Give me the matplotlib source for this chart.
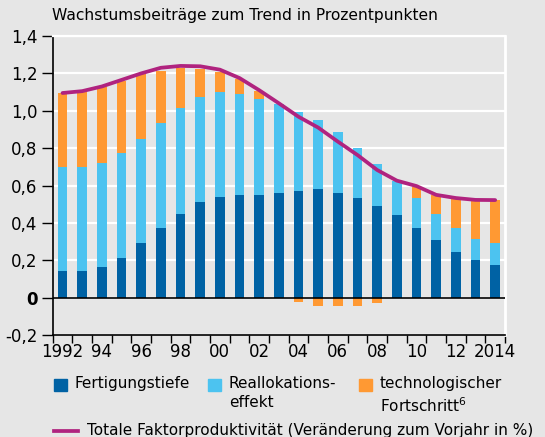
import matplotlib
matplotlib.use("Agg")
import matplotlib.pyplot as plt
import numpy as np
from matplotlib.patches import Rectangle
from matplotlib.lines import Line2D

years = list(range(1992, 2015))
tick_labels = ["1992", "94", "96", "98", "00", "02", "04", "06", "08", "10", "12", "2014"]

fertigungstiefe = [0.14, 0.14, 0.165, 0.21, 0.29, 0.37, 0.445, 0.51, 0.54, 0.55, 0.55, 0.56,
                   0.57, 0.58, 0.56, 0.535, 0.49, 0.44, 0.375, 0.31, 0.245, 0.20, 0.175]
reallokation = [0.56, 0.56, 0.555, 0.565, 0.56, 0.565, 0.57, 0.565, 0.56, 0.54, 0.515, 0.475,
                0.425, 0.37, 0.325, 0.265, 0.225, 0.185, 0.16, 0.14, 0.13, 0.115, 0.115]
technologie = [0.395, 0.40, 0.405, 0.385, 0.345, 0.28, 0.215, 0.15, 0.11, 0.08, 0.04, 0.0,
               -0.025, -0.045, -0.045, -0.045, -0.03, 0.0, 0.055, 0.10, 0.155, 0.205, 0.23]
tfp = [1.095, 1.105, 1.13, 1.165, 1.20, 1.23, 1.24, 1.238, 1.22, 1.175, 1.11, 1.04,
       0.968, 0.91, 0.835, 0.763, 0.683, 0.626, 0.597, 0.55, 0.533, 0.523, 0.522]

dark_blue = "#0062a4"
light_blue = "#4cc3f0"
orange = "#ff9933"
magenta = "#b0237f"
background = "#e6e6e6"

plt.rcParams["font.family"] = ["DejaVu Sans"]
plt.rcParams["font.size"] = 11

figure = plt.figure(figsize=(5.45, 4.37), dpi=100, facecolor=background)
axis = figure.add_axes([0.0967, 0.2334, 0.8299, 0.6842], facecolor=background)

x = np.arange(len(years))
dark = np.array(fertigungstiefe)
light = np.array(reallokation)
tech = np.array(technologie)

axis.bar(x, dark, width=0.5, color=dark_blue, zorder=2)
axis.bar(x, light, width=0.5, bottom=dark, color=light_blue, zorder=2)
tech_bottom = np.where(tech >= 0, dark + light, 0.0)
axis.bar(x, tech, width=0.5, bottom=tech_bottom, color=orange, zorder=2)

axis.plot(x, tfp, color=magenta, linewidth=2.7, zorder=3, solid_capstyle="round")

axis.axhline(0.0, color="black", linewidth=1.2, zorder=4)

axis.set_xlim(-0.5, len(years) - 0.5)
axis.set_ylim(-0.2, 1.4)
axis.set_yticks(np.arange(-0.2, 1.41, 0.2))
axis.set_yticklabels(["-0,2", "0", "0,2", "0,4", "0,6", "0,8", "1,0", "1,2", "1,4"])
axis.get_yticklabels()[1].set_fontweight("bold")

axis.set_xticks(np.arange(-0.5, len(years), 1.0))
axis.set_xticklabels([])
axis.set_xticks(x[::2], minor=True)
axis.set_xticklabels(tick_labels, minor=True)
axis.tick_params(axis="x", which="major", length=6, width=1, direction="out")
axis.tick_params(axis="x", which="minor", length=0, pad=6, labelsize=12)
axis.tick_params(axis="y", length=8, width=1, direction="out", pad=3, labelsize=12)

axis.grid(True, axis="y", color="white", linewidth=1.6, zorder=0)
axis.set_axisbelow(True)

for side in ["left", "bottom"]:
    axis.spines[side].set_color("black")
    axis.spines[side].set_linewidth(1.2)
axis.spines["right"].set_color("white")
axis.spines["right"].set_linewidth(2)
axis.spines["top"].set_color("white")
axis.spines["top"].set_linewidth(1.6)

figure.text(0.096, 0.965, "Wachstumsbeiträge zum Trend in Prozentpunkten",
            ha="left", va="center", fontsize=11.2)

# legend, placed by hand so handles sit on the first text line
patch_w, patch_h = 13 / 545, 12 / 437
legend_y = 1 - 385 / 437
entries = [
    (54, dark_blue, "Fertigungstiefe"),
    (208, light_blue, "Reallokations-\neffekt"),
    (359, orange, "technologischer\nFortschritt$^6$"),
]
for left_px, color, label in entries:
    figure.patches.append(Rectangle(
        (left_px / 545, legend_y - patch_h / 2), patch_w, patch_h,
        transform=figure.transFigure, color=color))
    figure.text((left_px + 21) / 545, legend_y + 0.02, label,
                ha="left", va="top", fontsize=11, linespacing=1.3)

line_y = 1 - 431 / 437
figure.lines.append(Line2D([54 / 545, 78 / 545], [line_y, line_y],
                           transform=figure.transFigure, color=magenta, linewidth=2.7))
figure.text(87 / 545, line_y, "Totale Faktorproduktivität (Veränderung zum Vorjahr in %)",
            ha="left", va="center", fontsize=11)

figure.savefig("out.png", dpi=100, facecolor=background)
